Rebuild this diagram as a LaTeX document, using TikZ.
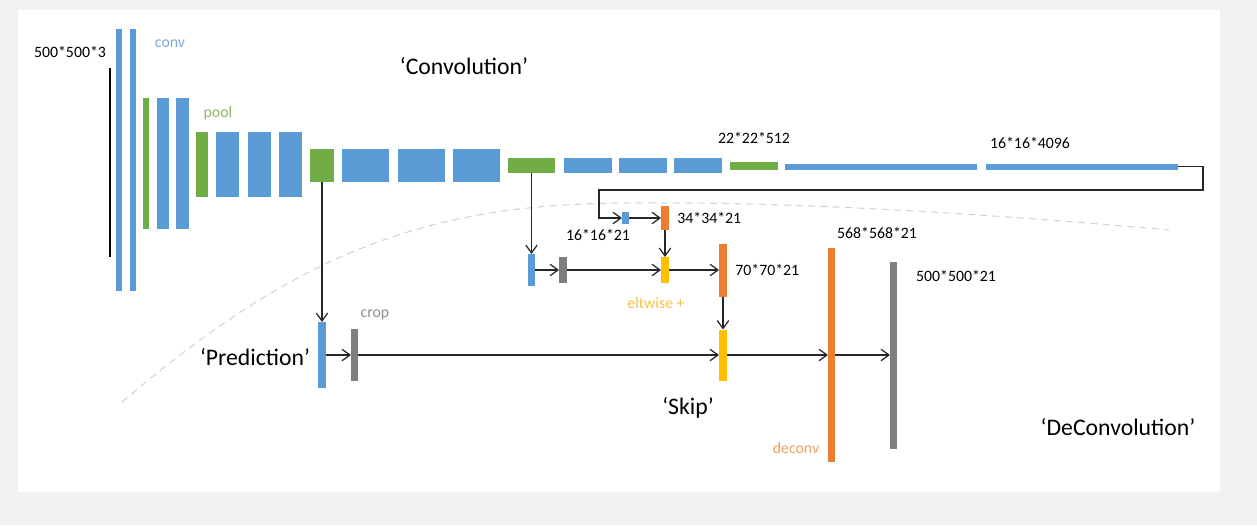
\documentclass[tikz,border=0pt]{standalone}
\usepackage{fontspec}
\setmainfont{Carlito}
\usepackage{tikz}
\usetikzlibrary{arrows.meta,positioning}
\usepackage{xcolor}
\definecolor{fcnblue}{RGB}{91,155,213}
\definecolor{fcngreen}{RGB}{112,173,71}
\definecolor{fcnorange}{RGB}{237,125,49}
\definecolor{fcngray}{RGB}{127,127,127}
\definecolor{fcngold}{RGB}{255,192,0}
\definecolor{fcnbg}{RGB}{242,242,242}
\definecolor{fcncurve}{RGB}{212,212,212}
\definecolor{fcnline}{RGB}{38,38,38}
\definecolor{lblblue}{RGB}{125,167,217}
\definecolor{lblgreen}{RGB}{140,181,106}
\definecolor{lblgray}{RGB}{143,143,143}
\definecolor{lblgold}{RGB}{245,194,66}
\definecolor{lblorange}{RGB}{240,160,96}
\tikzstyle{convbar} = [rectangle, inner sep=0pt, outer sep=0pt, fill=fcnblue]
\tikzstyle{poolbar} = [rectangle, inner sep=0pt, outer sep=0pt, fill=fcngreen]
\tikzstyle{cropbar} = [rectangle, inner sep=0pt, outer sep=0pt, fill=fcngray]
\tikzstyle{sumbar} = [rectangle, inner sep=0pt, outer sep=0pt, fill=fcngold]
\tikzstyle{upbar} = [rectangle, inner sep=0pt, outer sep=0pt, fill=fcnorange]
\tikzstyle{dim} = [inner sep=0pt, font=\fontsize{9}{10}\selectfont]
\tikzstyle{stage} = [inner sep=0pt, font=\fontsize{13.5}{15}\selectfont]
\tikzstyle{arrow} = [line width=0.7pt, draw=fcnline, -{Straight Barb[length=4.5pt,width=6.5pt]}]

\begin{document}
\begin{tikzpicture}
\useasboundingbox (0,0) rectangle (25.14,-10.5);
\fill[fcnbg] (0,0) rectangle (25.14,-10.5);
\fill[white] (0.36,-0.2) rectangle (24.4,-9.84);

% Dashed border between the two halves
\draw[fcncurve, line width=0.6pt, dash pattern=on 4pt off 3pt] (2.44,-8.04) .. controls (6,-5) and (8.6,-4.1) .. (12.4,-4.06) .. controls (16,-4.02) and (20,-4.3) .. (23.38,-4.6);

% Input image
\node[rectangle, inner sep=0pt, fill=black, minimum width=0.04cm, minimum height=3.78cm] (input) at (2.2,-3.25) {};
\node[dim] (insize) at (1.40,-1.04) {500*500*3};

% Convolution and pooling layers
\node[convbar, minimum width=0.12cm, minimum height=5.24cm] (c1a) at (2.38,-3.2) {};
\node[convbar, minimum width=0.12cm, minimum height=5.24cm] (c1b) at (2.66,-3.2) {};
\node[poolbar, minimum width=0.12cm, minimum height=2.62cm] (p1) at (2.92,-3.27) {};
\node[convbar, minimum width=0.24cm, minimum height=2.62cm] (c2a) at (3.26,-3.27) {};
\node[convbar, minimum width=0.26cm, minimum height=2.62cm] (c2b) at (3.65,-3.27) {};
\node[poolbar, minimum width=0.24cm, minimum height=1.30cm] (p2) at (4.04,-3.29) {};
\node[convbar, minimum width=0.46cm, minimum height=1.30cm] (c3a) at (4.55,-3.29) {};
\node[convbar, minimum width=0.46cm, minimum height=1.30cm] (c3b) at (5.19,-3.29) {};
\node[convbar, minimum width=0.46cm, minimum height=1.30cm] (c3c) at (5.81,-3.29) {};
\node[poolbar, minimum width=0.48cm, minimum height=0.66cm] (p3) at (6.44,-3.31) {};
\node[convbar, minimum width=0.94cm, minimum height=0.66cm] (c4a) at (7.31,-3.31) {};
\node[convbar, minimum width=0.94cm, minimum height=0.66cm] (c4b) at (8.43,-3.31) {};
\node[convbar, minimum width=0.94cm, minimum height=0.66cm] (c4c) at (9.53,-3.31) {};
\node[poolbar, minimum width=0.94cm, minimum height=0.30cm] (p4) at (10.63,-3.31) {};
\node[convbar, minimum width=0.96cm, minimum height=0.30cm] (c5a) at (11.76,-3.31) {};
\node[convbar, minimum width=0.96cm, minimum height=0.30cm] (c5b) at (12.86,-3.31) {};
\node[convbar, minimum width=0.96cm, minimum height=0.30cm] (c5c) at (13.96,-3.31) {};
\node[poolbar, minimum width=0.96cm, minimum height=0.16cm] (p5) at (15.08,-3.32) {};
\node[convbar, minimum width=3.84cm, minimum height=0.12cm] (fc6) at (17.62,-3.33) {};
\node[convbar, minimum width=3.84cm, minimum height=0.12cm] (fc7) at (21.64,-3.33) {};

% Labels of the convolution part
\node[dim, text=lblblue] (convlbl) at (3.40,-0.88) {conv};
\node[dim, text=lblgreen] (poollbl) at (4.36,-2.26) {pool};
\node[stage] (convtitle) at (9.28,-1.32) {‘Convolution’};
\node[dim] (p5size) at (15.08,-2.76) {22*22*512};
\node[dim] (fc7size) at (20.6,-2.86) {16*16*4096};

% Skip branch from fc7
\node[convbar, minimum width=0.14cm, minimum height=0.24cm] (score7) at (12.51,-4.36) {};
\node[upbar, minimum width=0.16cm, minimum height=0.48cm] (up7) at (13.30,-4.36) {};
\node[dim] (score7size) at (11.96,-4.70) {16*16*21};
\node[dim, right=0.16cm of up7] (up7size) {34*34*21};

% Skip branch from pool4
\node[convbar, minimum width=0.14cm, minimum height=0.64cm] (score4) at (10.63,-5.40) {};
\node[cropbar, minimum width=0.16cm, minimum height=0.52cm] (crop4) at (11.26,-5.40) {};
\node[sumbar, minimum width=0.16cm, minimum height=0.52cm] (sum4) at (13.30,-5.40) {};
\node[upbar, minimum width=0.16cm, minimum height=1.06cm] (up4) at (14.46,-5.40) {};
\node[dim, right=0.16cm of up4] (up4size) {70*70*21};
\node[dim, text=lblgold] (sumlbl) at (13.12,-6.06) {eltwise +};

% Skip branch from pool3
\node[convbar, minimum width=0.16cm, minimum height=1.32cm] (score3) at (6.44,-7.10) {};
\node[cropbar, minimum width=0.14cm, minimum height=1.04cm] (crop3) at (7.09,-7.10) {};
\node[sumbar, minimum width=0.16cm, minimum height=1.02cm] (sum3) at (14.46,-7.10) {};
\node[upbar, minimum width=0.14cm, minimum height=4.28cm] (deconv) at (16.63,-7.10) {};
\node[cropbar, minimum width=0.14cm, minimum height=3.74cm] (output) at (17.87,-7.10) {};
\node[dim, text=lblgray] (croplbl) at (7.50,-6.30) {crop};
\node[dim] (deconvsize) at (17.54,-4.66) {568*568*21};
\node[dim] (outsize) at (19.12,-5.52) {500*500*21};
\node[dim, text=lblorange] (deconvlbl) at (15.92,-8.96) {deconv};

% Stage titles
\node[stage] (predtitle) at (5.10,-7.14) {‘Prediction’};
\node[stage] (skiptitle) at (13.76,-8.16) {‘Skip’};
\node[stage] (deconvtitle) at (22.36,-8.54) {‘DeConvolution’};

% Connectors
\coordinate (turnR) at (24.06,-3.80);
\coordinate (turnL) at (11.98,-3.80);
\draw[arrow] (fc7.east) -| (turnR) -- (turnL) |- (score7.west);
\draw[arrow] (score7) -- (up7);
\draw[arrow] (up7) -- (sum4);
\draw[arrow] (p4.south) -- (score4.north);
\draw[arrow] (score4) -- (crop4);
\draw[arrow] (crop4) -- (sum4);
\draw[arrow] (sum4) -- (up4);
\draw[arrow] (up4) -- (sum3);
\draw[arrow] (p3.south) -- (score3.north);
\draw[arrow] (score3) -- (crop3);
\draw[arrow] (crop3) -- (sum3);
\draw[arrow] (sum3) -- (deconv);
\draw[arrow] (deconv) -- (output);
\end{tikzpicture}
\end{document}
